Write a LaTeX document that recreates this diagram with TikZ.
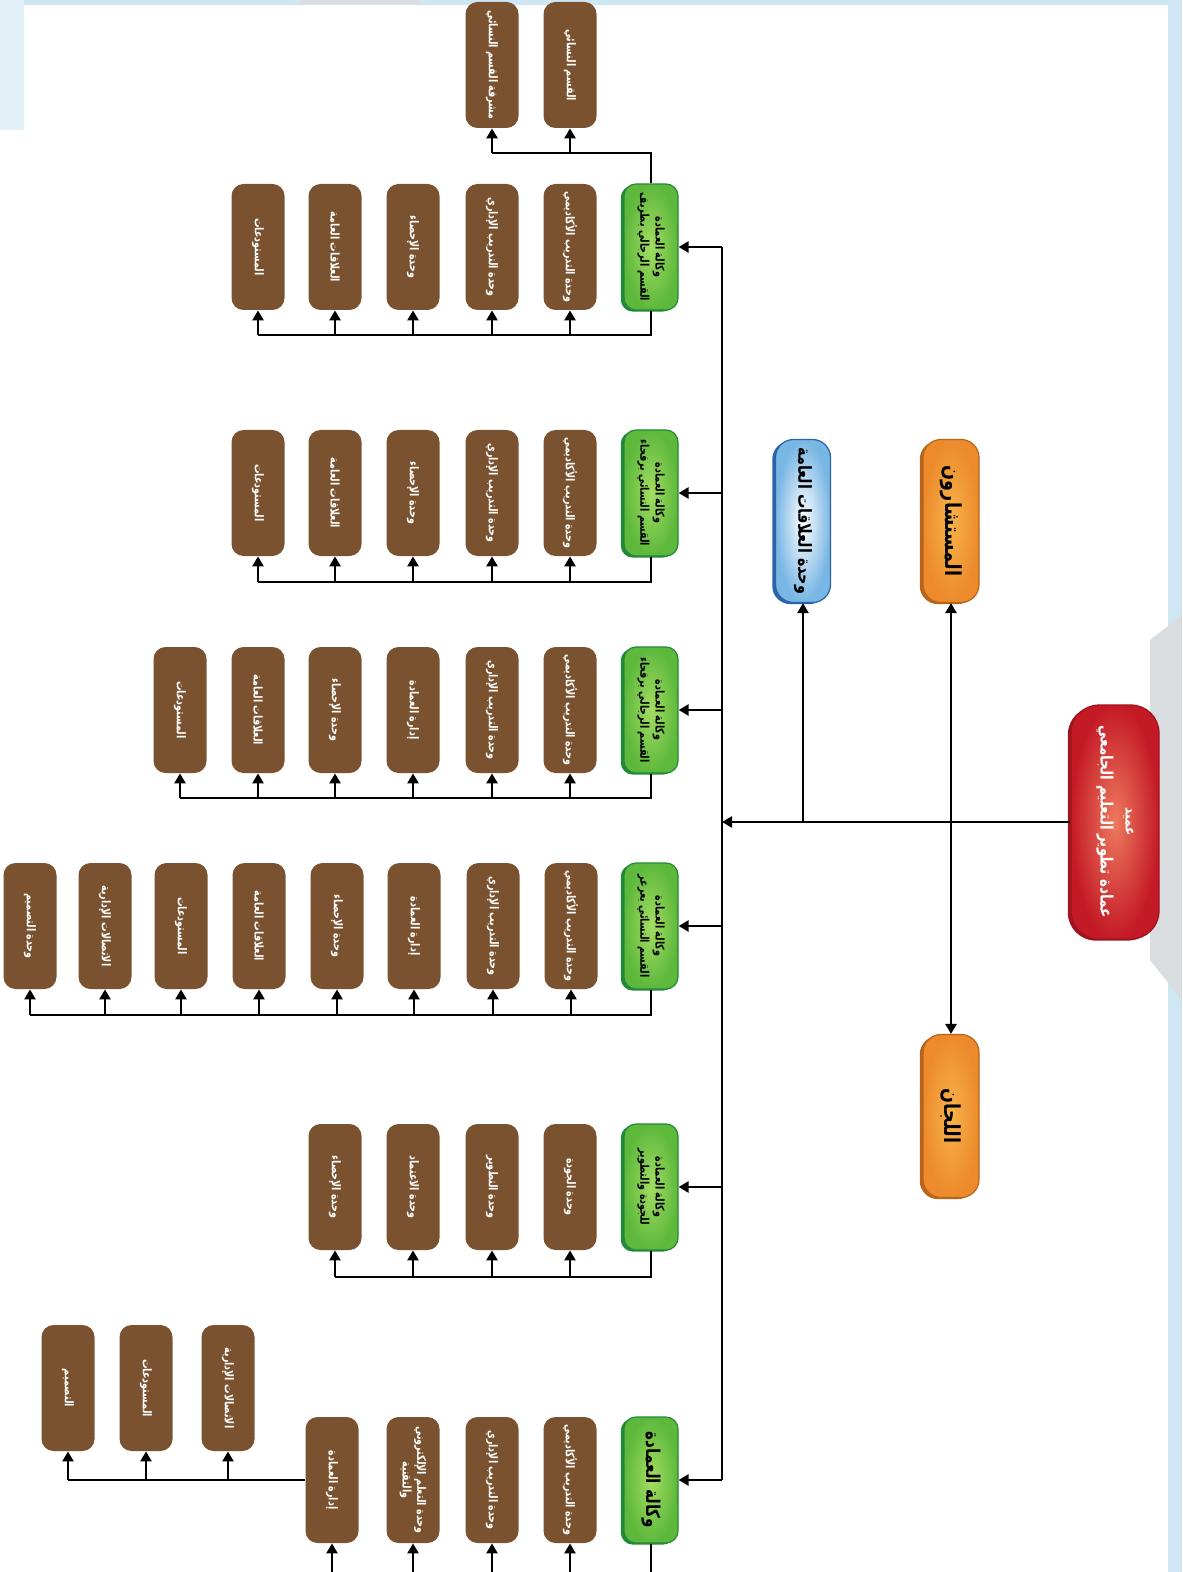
\documentclass[tikz,border=0pt]{standalone}
\usepackage{fontspec}
\newfontfamily\arabicfont[Script=Arabic,FakeStretch=0.8]{DejaVu Sans}
\TeXXeTstate=1
\usetikzlibrary{arrows.meta}
\definecolor{brownc}{HTML}{7B5230}
\definecolor{greenin}{HTML}{A3DD62}
\definecolor{greenout}{HTML}{5DB83C}
\definecolor{greendk}{HTML}{23893A}
\definecolor{redin}{HTML}{EE7A5E}
\definecolor{redout}{HTML}{C41A26}
\definecolor{reddk}{HTML}{9E1420}
\definecolor{orin}{HTML}{F8B34A}
\definecolor{orout}{HTML}{EC8A2C}
\definecolor{ordk}{HTML}{B8651C}
\definecolor{bluein}{HTML}{FFFFFF}
\definecolor{blueout}{HTML}{78B6E4}
\definecolor{bluedk}{HTML}{2A63A8}
\definecolor{bgblue}{HTML}{CFE7F3}
\definecolor{bggray}{HTML}{DADDE0}
\newcommand\rtl[1]{\beginR #1\endR}
\begin{document}
\begin{tikzpicture}[x=0.5pt,y=-0.5pt,
  conn/.style={line width=1.4pt},
  arr/.style={line width=1.4pt,-{Triangle[length=5pt,width=5.5pt]}},
  boxbase/.style={rotate=-90,rounded corners=6pt,inner sep=1pt,align=center},
  edge3d/.style={preaction={fill=#1,transform canvas={xshift=-1.6pt,yshift=-0.8pt}}},
  brownbox/.style={boxbase,fill=brownc,minimum width=63pt,minimum height=26.5pt,text=white,
    font=\arabicfont\bfseries\fontsize{6}{7.2}\selectfont},
  greenbox/.style={boxbase,edge3d=greendk,inner color=greenin,outer color=greenout,draw=greendk,line width=0.6pt,
    minimum width=63pt,minimum height=27pt,text=black,font=\arabicfont\bfseries\fontsize{6}{7.6}\selectfont},
  rootbox/.style={boxbase,edge3d=reddk,inner color=redin,outer color=redout,draw=reddk,line width=0.6pt,rounded corners=14pt,
    minimum width=117pt,minimum height=44pt,text=white,font=\arabicfont\bfseries\fontsize{8.5}{12.5}\selectfont},
  orangebox/.style={boxbase,edge3d=ordk,inner color=orin,outer color=orout,draw=ordk,line width=0.6pt,rounded corners=9pt,
    minimum width=81.5pt,minimum height=28pt,text=black,font=\arabicfont\bfseries\fontsize{11}{12}\selectfont},
  bluebox/.style={boxbase,edge3d=bluedk,inner color=bluein,outer color=blueout,draw=bluedk,line width=0.6pt,rounded corners=9pt,
    minimum width=81.5pt,minimum height=27.5pt,text=black,font=\arabicfont\bfseries\fontsize{9}{10}\selectfont}
]
\clip (0,0) rectangle (1182,1572);
\fill[white] (0,0) rectangle (1182,1572);
% background decoration
\fill[bgblue] (0,0) rectangle (1182,5);
\fill[bgblue!60] (0,0) rectangle (24,130);
\fill[bgblue] (1168,0) rectangle (1182,1572);
\fill[bggray] (300,0) rectangle (420,4);
\fill[bggray] (1150,640) -- (1182,615) -- (1182,1000) -- (1150,960) -- cycle;

% root and staff
\node[rootbox] (root) at (1115,822) {{\fontsize{7.5}{9}\selectfont\rtl{عميد}}\\\rtl{عمادة تطوير التعليم الجامعي}};
\node[orangebox] (cons) at (951,521) {\rtl{المستشارون}};
\node[orangebox] (comm) at (951,1116) {\rtl{اللجان}};
\node[bluebox] (pr) at (803,521) {\rtl{وحدة العلاقات العامة}};
\coordinate (hub) at (722,822);

% green vice-deanships
\node[greenbox] (g1) at (651,247) {\rtl{وكالة العمادة}\\\rtl{القسم الرجالي بطريف}};
\node[greenbox] (g2) at (651,493) {\rtl{وكالة العمادة}\\\rtl{القسم النسائي برفحاء}};
\node[greenbox] (g3) at (651,710) {\rtl{وكالة العمادة}\\\rtl{القسم الرجالي برفحاء}};
\node[greenbox] (g4) at (651,926) {\rtl{وكالة العمادة}\\\rtl{القسم النسائي بعرعر}};
\node[greenbox] (g5) at (651,1187) {\rtl{وكالة العمادة}\\\rtl{للجودة والتطوير}};
\node[greenbox,font=\arabicfont\bfseries\fontsize{9.5}{11}\selectfont] (g6) at (651,1480) {\rtl{وكالة العمادة}};

% group 1
\node[brownbox] (b1a) at (570,247) {\rtl{وحدة التدريب الأكاديمي}};
\node[brownbox] (b1b) at (492,247) {\rtl{وحدة التدريب الإداري}};
\node[brownbox] (b1c) at (413,247) {\rtl{وحدة الإحصاء}};
\node[brownbox] (b1d) at (335,247) {\rtl{العلاقات العامة}};
\node[brownbox] (b1e) at (258,247) {\rtl{المستودعات}};
\node[brownbox] (t1a) at (570,65) {\rtl{القسم النسائي}};
\node[brownbox] (t1b) at (492,65) {\rtl{مشرفة القسم النسائي}};
% group 2
\node[brownbox] (b2a) at (570,493) {\rtl{وحدة التدريب الأكاديمي}};
\node[brownbox] (b2b) at (492,493) {\rtl{وحدة التدريب الإداري}};
\node[brownbox] (b2c) at (413,493) {\rtl{وحدة الإحصاء}};
\node[brownbox] (b2d) at (335,493) {\rtl{العلاقات العامة}};
\node[brownbox] (b2e) at (258,493) {\rtl{المستودعات}};
% group 3
\node[brownbox] (b3a) at (570,710) {\rtl{وحدة التدريب الأكاديمي}};
\node[brownbox] (b3b) at (492,710) {\rtl{وحدة التدريب الإداري}};
\node[brownbox] (b3c) at (413,710) {\rtl{إدارة العمادة}};
\node[brownbox] (b3d) at (335,710) {\rtl{وحدة الإحصاء}};
\node[brownbox] (b3e) at (258,710) {\rtl{العلاقات العامة}};
\node[brownbox] (b3f) at (180,710) {\rtl{المستودعات}};
% group 4
\node[brownbox] (b4a) at (571,926) {\rtl{وحدة التدريب الأكاديمي}};
\node[brownbox] (b4b) at (493,926) {\rtl{وحدة التدريب الإداري}};
\node[brownbox] (b4c) at (414,926) {\rtl{إدارة العمادة}};
\node[brownbox] (b4d) at (337,926) {\rtl{وحدة الإحصاء}};
\node[brownbox] (b4e) at (259,926) {\rtl{العلاقات العامة}};
\node[brownbox] (b4f) at (181,926) {\rtl{المستودعات}};
\node[brownbox] (b4g) at (105,926) {\rtl{الاتصالات الإدارية}};
\node[brownbox] (b4h) at (30,926) {\rtl{وحدة التصميم}};
% group 5
\node[brownbox] (b5a) at (570,1187) {\rtl{وحدة الجودة}};
\node[brownbox] (b5b) at (492,1187) {\rtl{وحدة التطوير}};
\node[brownbox] (b5c) at (413,1187) {\rtl{وحدة الاعتماد}};
\node[brownbox] (b5d) at (335,1187) {\rtl{وحدة الإحصاء}};
% group 6
\node[brownbox] (b6a) at (570,1480) {\rtl{وحدة التدريب الأكاديمي}};
\node[brownbox] (b6b) at (492,1480) {\rtl{وحدة التدريب الإداري}};
\node[brownbox] (b6c) at (413,1480) {\rtl{وحدة التعلم الإلكتروني}\\\rtl{والتقنية}};
\node[brownbox] (b6d) at (332,1480) {\rtl{إدارة العمادة}};
\node[brownbox] (e6a) at (228,1388) {\rtl{الاتصالات الإدارية}};
\node[brownbox] (e6b) at (146,1388) {\rtl{المستودعات}};
\node[brownbox] (e6c) at (68,1388) {\rtl{التصميم}};

% bus coordinates
\coordinate (bus1) at (0,335);
\coordinate (top1) at (0,153);
\coordinate (bus2) at (0,582);
\coordinate (bus3) at (0,798);
\coordinate (bus4) at (0,1015);
\coordinate (bus5) at (0,1277);
\coordinate (bus6) at (0,1600);

% root connectors
\draw[arr] (root.south) -- (hub);
\draw[arr] (cons.east |- hub) -- (cons.east);
\draw[arr] (comm.west |- hub) -- (comm.west);
\draw[arr] (pr.east |- hub) -- (pr.east);
\draw[conn] (hub |- g1) -- (hub |- g6);
\foreach \g in {g1,g2,g3,g4,g5,g6} \draw[arr] (hub |- \g) -- (\g.north);

% group buses
\draw[conn] (g1.east) -- (g1.east |- bus1) -- (b1e.east |- bus1);
\foreach \b in {b1a,b1b,b1c,b1d,b1e} \draw[arr] (\b.east |- bus1) -- (\b.east);
\draw[conn] (g1.west) -- (g1.west |- top1) -- (t1b.east |- top1);
\foreach \b in {t1a,t1b} \draw[arr] (\b.east |- top1) -- (\b.east);

\draw[conn] (g2.east) -- (g2.east |- bus2) -- (b2e.east |- bus2);
\foreach \b in {b2a,b2b,b2c,b2d,b2e} \draw[arr] (\b.east |- bus2) -- (\b.east);

\draw[conn] (g3.east) -- (g3.east |- bus3) -- (b3f.east |- bus3);
\foreach \b in {b3a,b3b,b3c,b3d,b3e,b3f} \draw[arr] (\b.east |- bus3) -- (\b.east);

\draw[conn] (g4.east) -- (g4.east |- bus4) -- (b4h.east |- bus4);
\foreach \b in {b4a,b4b,b4c,b4d,b4e,b4f,b4g,b4h} \draw[arr] (\b.east |- bus4) -- (\b.east);

\draw[conn] (g5.east) -- (g5.east |- bus5) -- (b5d.east |- bus5);
\foreach \b in {b5a,b5b,b5c,b5d} \draw[arr] (\b.east |- bus5) -- (\b.east);

\draw[conn] (g6.east) -- (g6.east |- bus6) -- (b6d.east |- bus6);
\foreach \b in {b6a,b6b,b6c,b6d} \draw[arr] (\b.east |- bus6) -- (\b.east);

\draw[conn] (b6d.south) -- (e6c.east |- b6d.south);
\foreach \b in {e6a,e6b,e6c} \draw[arr] (\b.east |- b6d.south) -- (\b.east);
\end{tikzpicture}
\end{document}
